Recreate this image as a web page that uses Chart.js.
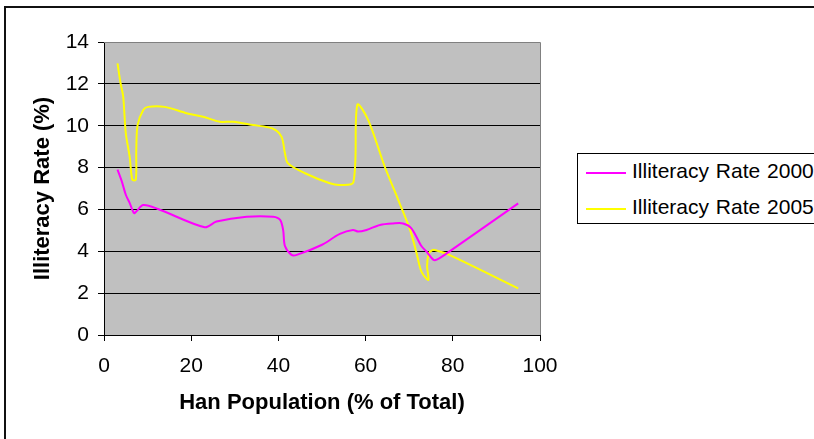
<!DOCTYPE html>
<html lang="en">
<head>
<meta charset="UTF-8">
<title>Illiteracy Rate vs Han Population</title>
<script src="https://cdn.jsdelivr.net/npm/chart.js"></script>
<style>
  body { margin: 0; background: #fff; font-family: "Liberation Sans", Arial, sans-serif; }
  .janela { position: relative; width: 814px; height: 439px; overflow: hidden; }
  .moldura { position: absolute; left: 4px; top: 6px; width: 900px; height: 500px;
             border-top: 2px solid #111; border-left: 2px solid #111; }
  .legenda { position: absolute; left: 577px; top: 153px; width: 260px; height: 69px;
             border: 1px solid #000; background: #fff; }
  .item { position: absolute; left: 0; height: 24px; }
  .item span.linha { position: absolute; left: 8px; top: 11px; width: 40px; height: 2px; }
  .item span.texto { position: absolute; left: 54px; top: -2px; font-size: 21px; line-height: 24px;
                     white-space: nowrap; word-spacing: 1px; color: #000; }
  #grafico { position: absolute; left: 0; top: 0; }
</style>
</head>
<body>
<div class="janela">
  <div class="moldura"></div>
  <canvas id="grafico" width="814" height="439"></canvas>
  <div class="legenda" id="legenda"></div>
</div>

<script>
// dados
const nomesSeries = ['Illiteracy Rate 2000', 'Illiteracy Rate 2005'];
const coresSeries = ['#ff00ff', '#ffff00'];

const han2000 = [3.1, 4.1, 5.0, 5.9, 6.9, 7.4, 9.0, 12.4, 23.1, 25.8, 32.7, 38.8, 40.4, 41.1, 41.5, 43.0, 44.2,
                 49.9, 54.1, 57.1, 58.3, 60.2, 63.3, 66.3, 68.6, 70.5, 72.8, 74.0, 75.5, 76.3, 78.6, 95.0];
const taxa2000 = [7.9, 7.33, 6.7, 6.3, 5.82, 5.9, 6.21, 6.02, 5.15, 5.42, 5.65, 5.65, 5.5, 5.0, 4.25, 3.83, 3.83,
                  4.3, 4.83, 5.02, 4.94, 5.02, 5.26, 5.33, 5.33, 5.1, 4.25, 3.98, 3.6, 3.6, 3.9, 6.29];

const han2005 = [3.1, 3.8, 4.4, 5.0, 5.9, 6.5, 7.3, 7.4, 7.7, 9.0, 10.1, 13.9, 18.9, 22.7, 26.6, 29.6, 34.2,
                 38.6, 40.7, 41.5, 42.2, 46.1, 51.8, 54.1, 57.2, 58.1, 60.6, 64.4, 67.5, 70.2, 71.7, 72.8,
                 74.4, 74.1, 74.5, 75.3, 75.9, 79.3, 95.0];
const taxa2005 = [12.98, 12.03, 11.4, 9.64, 8.5, 7.42, 7.42, 8.8, 10.03, 10.75, 10.9, 10.9, 10.6, 10.43, 10.19, 10.19, 10.03,
                  9.87, 9.48, 8.68, 8.2, 7.73, 7.25, 7.17, 7.3, 11.0, 10.27, 8.04, 6.45, 5.02, 3.9, 3.03,
                  2.63, 3.3, 3.9, 4.06, 4.06, 3.82, 2.23];

const eixoX = { min: 0, max: 100, passo: 20, titulo: 'Han Population (% of Total)' };
const eixoY = { min: 0, max: 14, passo: 2, titulo: 'Illiteracy Rate (%)' };

function juntar(xs, ys) {
    let pontos = [];
    for (let i = 0; i < xs.length; i++) {
        pontos.push({ x: xs[i], y: ys[i] });
    }
    return pontos;
}

// fundo cinza da área de plotagem + borda cinza em cima e à direita
const fundoPlot = {
    id: 'fundoPlot',
    beforeDraw(chart) {
        const a = chart.chartArea;
        const ctx = chart.ctx;
        ctx.save();
        ctx.fillStyle = '#c0c0c0';
        ctx.fillRect(a.left, a.top, a.right - a.left, a.bottom - a.top);
        ctx.restore();
    },
    afterDatasetsDraw(chart) {
        const a = chart.chartArea;
        const ctx = chart.ctx;
        ctx.save();
        ctx.strokeStyle = '#808080';
        ctx.lineWidth = 1;
        ctx.beginPath();
        ctx.moveTo(a.left, a.top + 0.5);
        ctx.lineTo(a.right + 0.5, a.top + 0.5);
        ctx.lineTo(a.right + 0.5, a.bottom);
        ctx.stroke();
        ctx.restore();
    }
};

const fonteTicks = { family: '"Liberation Sans", Arial, sans-serif', size: 21 };
const fonteTitulo = { family: '"Liberation Sans", Arial, sans-serif', size: 22, weight: 'bold' };

const config = {
    type: 'scatter',
    data: {
        datasets: [
            { label: nomesSeries[0], data: juntar(han2000, taxa2000), borderColor: coresSeries[0],
              backgroundColor: coresSeries[0], showLine: true, borderWidth: 2, pointRadius: 0, tension: 0.3 },
            { label: nomesSeries[1], data: juntar(han2005, taxa2005), borderColor: coresSeries[1],
              backgroundColor: coresSeries[1], showLine: true, borderWidth: 2, pointRadius: 0, tension: 0.3 }
        ]
    },
    options: {
        responsive: false,
        animation: false,
        layout: { padding: { top: 42, right: 274, left: 0, bottom: 0 } },
        plugins: { legend: { display: false }, tooltip: { enabled: false } },
        scales: {
            x: {
                type: 'linear', min: eixoX.min, max: eixoX.max,
                ticks: { stepSize: eixoX.passo, color: '#000', font: fonteTicks, padding: 13, maxRotation: 0 },
                grid: { drawOnChartArea: false, drawTicks: true, tickLength: 6, color: '#000' },
                border: { color: '#000' },
                title: { display: true, text: eixoX.titulo, color: '#000', font: fonteTitulo, padding: { top: 0, bottom: 23 } },
                afterFit(scale) { scale.height = 104; }
            },
            y: {
                type: 'linear', min: eixoY.min, max: eixoY.max,
                ticks: { stepSize: eixoY.passo, color: '#000', font: fonteTicks, padding: 9 },
                grid: { color: '#000', tickLength: 6 },
                border: { color: '#000' },
                title: { display: true, text: eixoY.titulo, color: '#000', font: fonteTitulo, padding: { top: 30, bottom: 0 } },
                afterFit(scale) { scale.width = 104; }
            }
        }
    },
    plugins: [fundoPlot]
};

let meuGrafico = new Chart(document.getElementById('grafico'), config);

// legenda em HTML (caixa com borda, como no original)
const legenda = document.getElementById('legenda');
const topos = [7, 43];
for (let i = 0; i < nomesSeries.length; i++) {
    const item = document.createElement('div');
    item.className = 'item';
    item.style.top = topos[i] + 'px';
    item.innerHTML = '<span class="linha" style="background:' + coresSeries[i] + '"></span>' +
                     '<span class="texto">' + nomesSeries[i] + '</span>';
    legenda.appendChild(item);
}
</script>
</body>
</html>
